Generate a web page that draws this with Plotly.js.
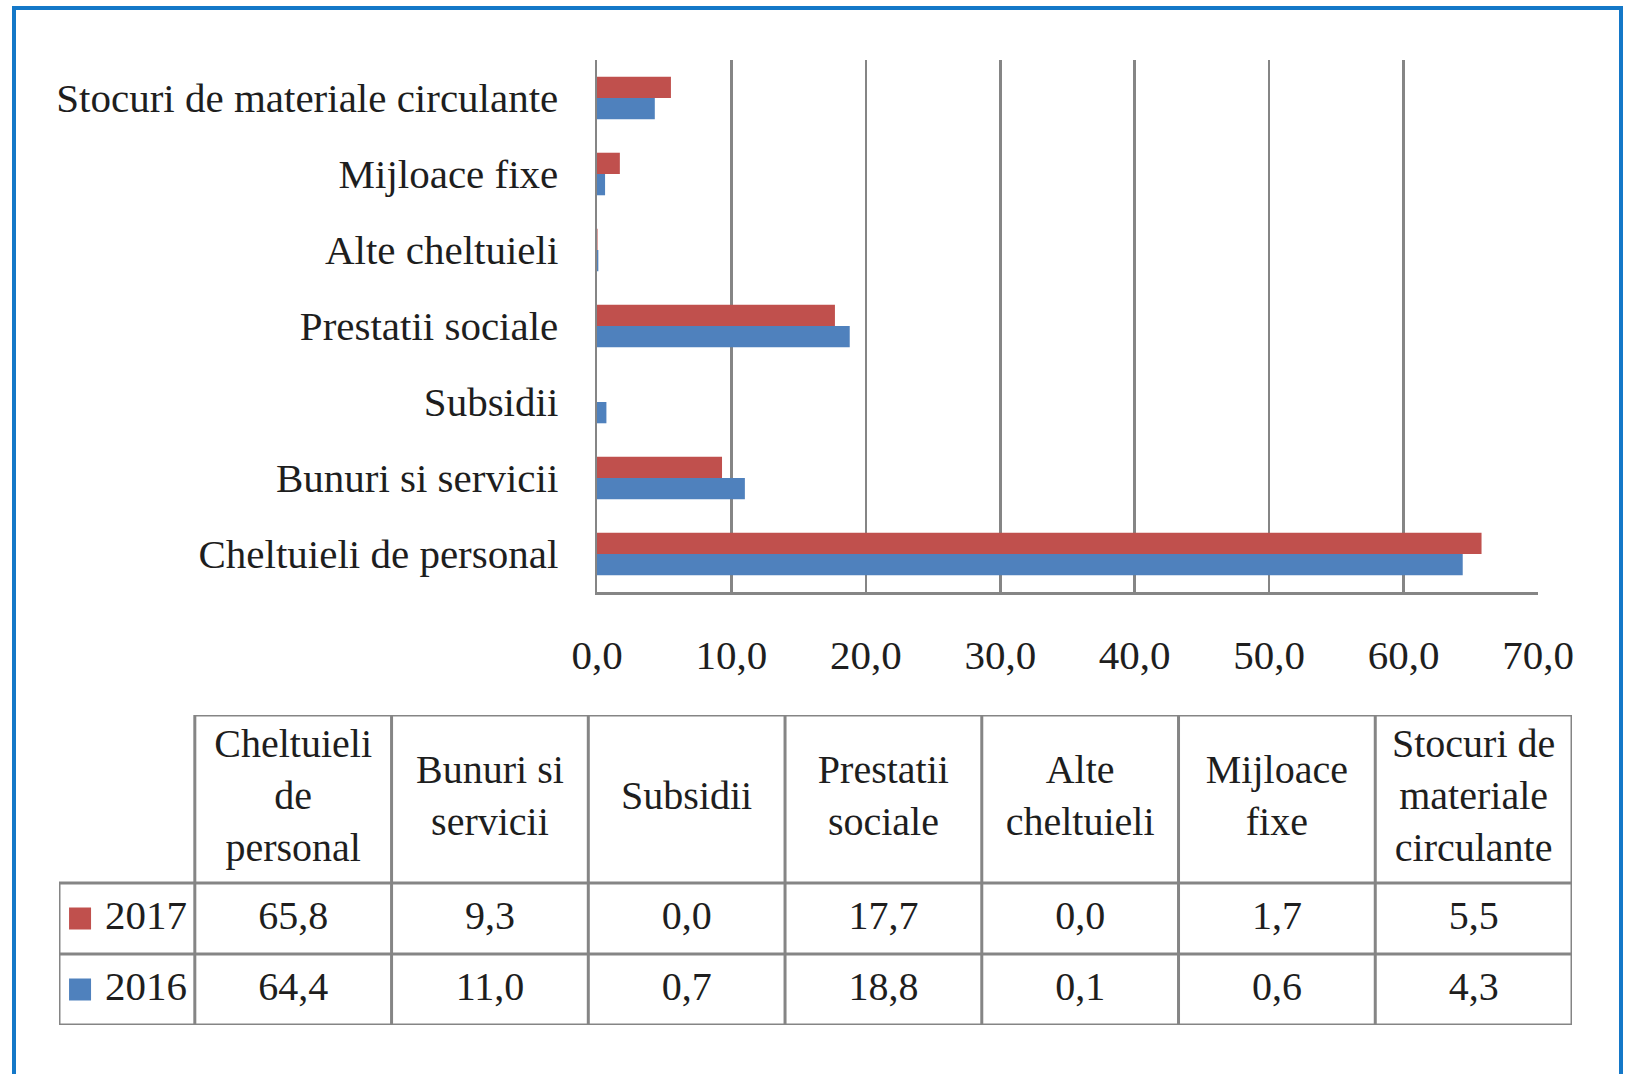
<!DOCTYPE html>
<html>
<head>
<meta charset="utf-8">
<script src="https://cdn.plot.ly/plotly-3.0.1.min.js"></script>
<style>
  html,body{margin:0;padding:0;background:#fff;overflow:hidden;}
  #chart{width:1629px;height:1074px;}
  #frame{position:absolute;left:12px;top:6px;width:1603px;height:1100px;
         border:4px solid #1478c8;border-bottom:none;pointer-events:none;}
</style>
</head>
<body>
<div id="chart"></div>
<div id="frame"></div>
<script>
const categories = ['Cheltuieli de personal','Bunuri si servicii','Subsidii','Prestatii sociale','Alte cheltuieli','Mijloace fixe','Stocuri de materiale circulante'];
const headerLabels = ['Cheltuieli<br>de<br>personal','Bunuri si<br>servicii','Subsidii','Prestatii<br>sociale','Alte<br>cheltuieli','Mijloace<br>fixe','Stocuri de<br>materiale<br>circulante'];
const v2017 = [65.8, 9.3, 0.0, 17.7, 0.04, 1.7, 5.5];
const v2016 = [64.4, 11.0, 0.7, 18.8, 0.1, 0.6, 4.3];
const years = ['2017','2016'];
const xTicks = [0,10,20,30,40,50,60,70];

const RED = '#c0504d', BLUE = '#4f81bd', GRID = '#858585', INK = '#1e1e1e';
const FONT = 'Liberation Serif, Times New Roman, serif';
const W = 1629, H = 1074;

function fmt(v){ return v.toFixed(1).replace('.', ','); }

// data table drawn on its own axes: one x unit per column, one y unit per value row
const n = categories.length;
const labW = 136/197;               // row-label column, in column units
const hdrU = 168/71;                // header row, in row units
const xL = -0.5 - labW, xR = n - 0.5;
const yB = -0.5, yMid = 1.5, yT = 1.5 + hdrU;
const rowY = [1, 0];                // 2017 above 2016
const idx = categories.map((_, i) => i);

const traces = [
  {type:'bar', orientation:'h', name:'2016', y:categories, x:v2016,
   marker:{color:BLUE}},
  {type:'bar', orientation:'h', name:'2017', y:categories, x:v2017,
   marker:{color:RED}},
  // header labels
  {type:'scatter', mode:'text', xaxis:'x2', yaxis:'y2',
   x:idx, y:idx.map(() => yMid + hdrU/2), text:headerLabels,
   textposition:'middle center', textfont:{family:FONT, size:40, color:INK}},
  // values
  {type:'scatter', mode:'text', xaxis:'x2', yaxis:'y2',
   x:[...idx, ...idx], y:[...idx.map(() => rowY[0]), ...idx.map(() => rowY[1])],
   text:[...v2017.map(fmt), ...v2016.map(fmt)],
   textposition:'middle center', textfont:{family:FONT, size:40, color:INK}},
  // row labels with legend keys
  {type:'scatter', mode:'markers+text', xaxis:'x2', yaxis:'y2',
   x:years.map(() => xL + 0.107), y:rowY,
   marker:{symbol:'square', size:22, color:[RED, BLUE]},
   text:years.map(y => ' ' + y), textposition:'middle right',
   textfont:{family:FONT, size:41, color:INK}}
];

// table rules
const line = {color:GRID, width:3};
const shapes = [];
for (let k = 0; k <= n; k++) {
  shapes.push({type:'line', xref:'x2', yref:'y2', x0:k - 0.5, x1:k - 0.5, y0:yB, y1:yT, line});
}
shapes.push({type:'line', xref:'x2', yref:'y2', x0:xL, x1:xL, y0:yB, y1:yMid, line});
[yB, 0.5, yMid].forEach(y => shapes.push({type:'line', xref:'x2', yref:'y2', x0:xL, x1:xR, y0:y, y1:y, line}));
shapes.push({type:'line', xref:'x2', yref:'y2', x0:-0.5, x1:xR, y0:yT, y1:yT, line});

const hidden = {visible:false, showgrid:false, zeroline:false, fixedrange:true};

const layout = {
  width:W, height:H,
  margin:{l:0, r:0, t:0, b:0},
  paper_bgcolor:'white', plot_bgcolor:'white',
  showlegend:false,
  barmode:'group', bargap:0.44, bargroupgap:0,
  xaxis:{domain:[597/W, 1538/W], range:[0,70], tickvals:xTicks,
         ticktext:xTicks.map(fmt), showgrid:true, gridcolor:GRID, gridwidth:2.5,
         zeroline:false, showline:true, linecolor:GRID, linewidth:2.5,
         ticks:'outside', ticklen:25, tickcolor:'rgba(0,0,0,0)',
         tickfont:{family:FONT, size:41, color:INK}, fixedrange:true},
  yaxis:{domain:[1 - 592/H, 1 - 60/H], type:'category',
         showgrid:false, zeroline:false, showline:true, linecolor:GRID, linewidth:2.5,
         ticks:'outside', ticklen:28, tickcolor:'rgba(0,0,0,0)',
         tickfont:{family:FONT, size:41, color:INK}, fixedrange:true},
  xaxis2:Object.assign({domain:[59/W, 1572/W], range:[xL, xR], anchor:'y2'}, hidden),
  yaxis2:Object.assign({domain:[1 - 1025/H, 1 - 715/H], range:[yB, yT], anchor:'x2'}, hidden),
  shapes:shapes
};

Plotly.newPlot('chart', traces, layout, {displayModeBar:false, staticPlot:true});
</script>
</body>
</html>
